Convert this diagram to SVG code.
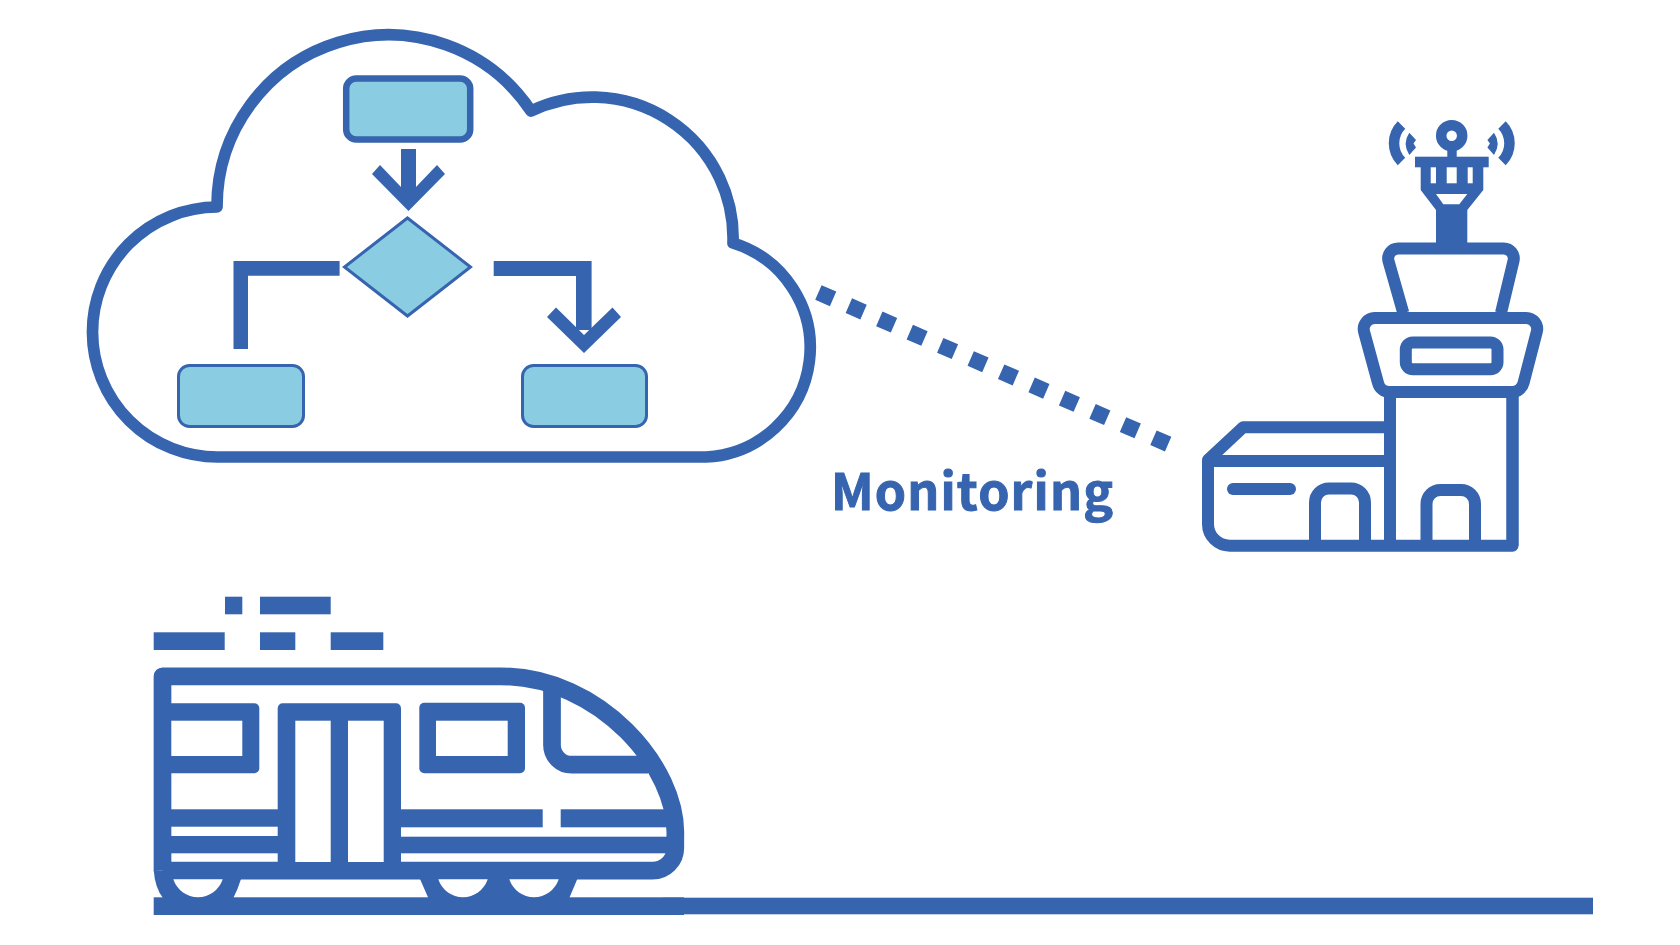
<svg xmlns="http://www.w3.org/2000/svg" width="1680" height="945" viewBox="0 0 1680 945">
<style>
.b{fill:#3664AF}
.w{fill:#fff}
.s{fill:none;stroke:#3664AF;stroke-width:12;stroke-linejoin:round}
.l{fill:#8ACDE2;stroke:#3664AF}
.t{fill:none;stroke:#3664AF;stroke-width:17.7;stroke-linejoin:round}
</style>
<rect width="1680" height="945" fill="#fff"/>
<g id="cloud"><path d="M217 207A171.5 171.5 0 0 1 531 111A141 141 0 0 1 733 243A109.5 109.5 0 0 1 706 457H218A125 125 0 0 1 217 207Z" fill="none" stroke="#3664AF" stroke-width="11.7" stroke-linejoin="round"/></g>
<g id="box-top"><rect class="l" x="346.2" y="78.5" width="124" height="61" rx="10" stroke-width="6.5"/></g>
<g id="decision"><polygon class="l" points="407.5,218 470.5,267 407.5,316 344.5,267" stroke-width="3"/></g>
<g id="box-left"><rect class="l" x="178.5" y="365.5" width="125" height="61" rx="11" stroke-width="3"/></g>
<g id="box-right"><rect class="l" x="522.5" y="365.5" width="124" height="61" rx="11" stroke-width="3"/></g>
<g id="connectors">
<polygon class="b" points="401,149 416,149 416,187 437,165 445,174 408.5,211 372,174 380,165 401,187"/>
<polygon class="b" points="339.6,261 233.5,261 233.5,349 248,349 248,275.7 339.6,275.7"/>
<polygon class="b" points="493.7,261 591.6,261 591.6,330 576,330 576,276 493.7,276"/>
<polygon class="b" points="584,353 547,317 556,307.5 584,335 612.5,307.5 621,317"/>
<line x1="818.4" y1="292.5" x2="1168.3" y2="444.2" stroke="#3664AF" stroke-width="16" stroke-dasharray="16 17.2"/>
</g>
<g id="label"><text x="831" y="510" font-family="'Noto Sans CJK JP','Noto Sans',sans-serif" font-weight="700" font-size="50" fill="#3664AF" stroke="#3664AF" stroke-width="1" textLength="282">Monitoring</text></g>
<g id="tower">
<circle cx="1451.7" cy="135.7" r="10.5" fill="none" stroke="#3664AF" stroke-width="10.5"/>
<rect class="b" x="1447.3" y="150" width="9.4" height="8"/>
<rect class="b" x="1415" y="156.7" width="73.7" height="10.6"/>
<polygon class="b" points="1420.7,167 1483.3,167 1483.3,190 1467.3,210 1467.3,244 1436,244 1436,210 1420.7,190"/>
<rect class="w" x="1430.7" y="167.3" width="5.3" height="16"/>
<rect class="w" x="1446.7" y="167.3" width="10" height="16"/>
<rect class="w" x="1467.7" y="167.3" width="5" height="16"/>
<polygon class="w" points="1436,194 1467.3,194 1459.3,204.3 1443.3,204.3"/>
<path d="M1401.5 125A26 26 0 0 0 1401.5 161.5M1502 125A26 26 0 0 1 1502 161.5" fill="none" stroke="#3664AF" stroke-width="10.5"/>
<path class="b" d="M1409.3 132.7L1416 140L1413.5 143.5L1416 147.5L1409.3 155Q1402 143.5 1409.3 132.7ZM1494 132.7L1487.4 140L1489.9 143.5L1487.4 147.5L1494 155Q1501.4 143.5 1494 132.7Z"/>
<path class="s" d="M1403.3 313L1388.6 261.3A10 10 0 0 1 1398.3 248.5H1503.8A10 10 0 0 1 1513.5 260.8L1501 313"/>
<path class="s" d="M1374.7 318H1526.1A11 11 0 0 1 1536.8 331.8L1523.6 382.8A12 12 0 0 1 1511.6 392H1390A12 12 0 0 1 1378 382.8L1364.1 331.8A11 11 0 0 1 1374.7 318Z"/>
<rect class="s" x="1405.8" y="342.5" width="91.7" height="26.7" rx="7"/>
<path class="s" d="M1390 392V545.7M1512.5 392V545.7"/>
<path class="s" d="M1390 427.3H1243L1208 460V524A21.7 21.7 0 0 0 1229.7 545.7H1512.5V392M1208 461H1390"/>
<path d="M1233 489H1290" fill="none" stroke="#3664AF" stroke-width="12" stroke-linecap="round"/>
<path class="s" d="M1315 545.7V502.5A14 14 0 0 1 1329 488.5H1351A14 14 0 0 1 1365 502.5V545.7"/>
<path class="s" d="M1426.5 545.7V504A14 14 0 0 1 1440.5 490H1461A14 14 0 0 1 1475 504V545.7"/>
</g>
<g id="train">
<g class="b">
<rect x="225" y="596.7" width="17.3" height="17.6"/>
<rect x="260" y="596.7" width="70.7" height="17.6"/>
<rect x="153.7" y="632.3" width="71" height="17.7"/>
<rect x="260" y="632.3" width="35.3" height="17.7"/>
<rect x="330.7" y="632.3" width="52.6" height="17.7"/>
<rect x="162" y="809.3" width="116" height="17.4"/>
<rect x="162" y="836" width="116" height="17.3"/>
<rect x="401" y="809.3" width="141.7" height="18"/>
<rect x="560.7" y="809.3" width="108" height="18"/>
<rect x="401" y="836.7" width="271" height="16.6"/>
<path d="M153.7 870Q155 888 163 898H233.3Q238 889 241 879Z"/>
<path d="M420 879L428.3 898H569.3L577.3 879Z"/>
<rect x="153.7" y="897.3" width="530.3" height="17.7"/>
<rect x="663" y="897.7" width="930" height="16.6"/>
</g>
<path class="t" d="M162.5 870.7V676.3H500C600 676 678 768 675.3 836V848A22.7 22.7 0 0 1 652.6 870.7H162.5"/>
<path class="t" d="M552 682V745A19.7 19.7 0 0 0 571.7 764.7H648"/>
<rect class="b" x="162" y="703.3" width="97.3" height="70" rx="5"/>
<rect class="w" x="171.3" y="720.7" width="71" height="35.3"/>
<rect class="b" x="277.7" y="703.3" width="123.3" height="167" rx="5"/>
<rect class="w" x="295.3" y="720.7" width="35.4" height="141.3"/>
<rect class="w" x="348" y="720.7" width="35.7" height="141.3"/>
<rect class="b" x="419.3" y="702.7" width="105.7" height="70.6" rx="5"/>
<rect class="w" x="436" y="720.7" width="71.7" height="35.3"/>
<g class="w">
<path d="M173.3 879.3H222.7A26 26 0 0 1 173.3 879.3Z"/>
<path d="M438.3 879.3H487.7A26 26 0 0 1 438.3 879.3Z"/>
<path d="M509.3 879.3H558.7A26 26 0 0 1 509.3 879.3Z"/>
</g>
</g>
</svg>
